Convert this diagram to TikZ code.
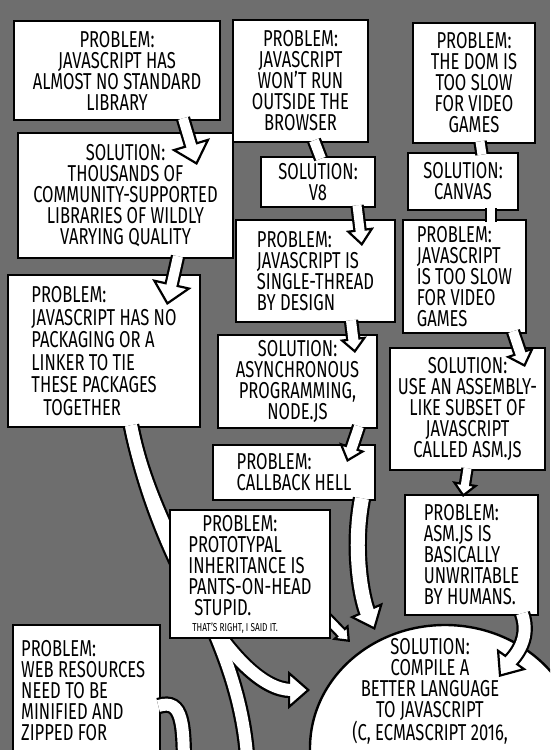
\documentclass[tikz,border=0pt]{standalone}
\usepackage{fontspec}
\setmainfont[FakeStretch=0.72]{Fira Sans}
\usepackage{tikz}
\usetikzlibrary{positioning,arrows.meta,shapes.geometric}
\definecolor{slate}{HTML}{6E6E6E}
\pgfdeclarelayer{behind}
\pgfsetlayers{behind,main}

\tikzset{
  words/.style={font=\fontsize{23}{21}\selectfont, inner sep=0pt},
  panel/.style={words, draw=black, line width=2.4pt, fill=white,
                outer sep=0pt, align=center},
  lpanel/.style={panel, align=left},
  outline/.style={draw=black, line width=#1+4.4pt},
  core/.style={draw=white, line width=#1},
  stem/.style={core=#1, preaction={outline=#1}},
  fat/.style n args={3}{draw=white, line width=2.2pt,
    -{Triangle[width=#2, length=#3, color=black, fill=white]},
    preaction={outline=#1, -, shorten >=#3-3pt},
    postaction={core=#1, -, shorten >=#3-3.5pt}}
}

\begin{document}
\begin{tikzpicture}[x=1pt, y=-1pt]
\useasboundingbox (0,0) rectangle (550,750);
\begin{pgfonlayer}{behind}
\fill[slate] (0,0) rectangle (550,750);
\end{pgfonlayer}
\clip (0,0) rectangle (550,750);

% first row
\node[panel, minimum width=206pt, minimum height=99pt] (stdlib) at (117,70.5)
  {PROBLEM:\\JAVASCRIPT HAS\\ALMOST NO STANDARD\\LIBRARY};
\node[panel, minimum width=135pt, minimum height=122pt] (browser) at (300.5,81)
  {PROBLEM:\\JAVASCRIPT\\WON'T RUN\\OUTSIDE THE\\BROWSER};
\node[panel, minimum width=122pt, minimum height=120pt] (dom) at (474,83)
  {PROBLEM:\\THE DOM IS\\TOO SLOW\\FOR VIDEO\\GAMES};

% second row
\node[panel, minimum width=215pt, minimum height=125pt] (libs) at (125.5,195.5)
  {SOLUTION:\\THOUSANDS OF\\COMMUNITY-SUPPORTED\\LIBRARIES OF WILDLY\\VARYING QUALITY};
\node[panel, minimum width=114pt, minimum height=50pt] (veight) at (318,182)
  {SOLUTION:\\V8};
\node[panel, minimum width=110pt, minimum height=57pt] (canvas) at (463,181.5)
  {SOLUTION:\\CANVAS};

% middle
\node[lpanel, minimum width=159pt, minimum height=102pt] (thread) at (315.5,271)
  {PROBLEM:\\JAVASCRIPT IS\\SINGLE-THREAD\\BY DESIGN};
\node[lpanel, minimum width=123pt, minimum height=113pt] (slowjs) at (464.5,276.5)
  {PROBLEM:\\JAVASCRIPT\\IS TOO SLOW\\FOR VIDEO\\GAMES};
\node[lpanel, minimum width=192pt, minimum height=152pt,
      font=\fontsize{23}{22.5}\selectfont] (packaging) at (104,351)
  {PROBLEM:\\JAVASCRIPT HAS NO\\PACKAGING OR A\\LINKER TO TIE\\THESE PACKAGES\\\hspace*{12pt}TOGETHER};
\node[panel, minimum width=159pt, minimum height=93pt] (async) at (297.5,381.5)
  {SOLUTION:\\ASYNCHRONOUS\\PROGRAMMING,\\NODE.JS};
\node[panel, minimum width=155pt, minimum height=122pt] (asmjs) at (467.5,409)
  {SOLUTION:\\USE AN ASSEMBLY-\\LIKE SUBSET OF\\JAVASCRIPT\\CALLED ASM.JS};
\node[lpanel, minimum width=162pt, minimum height=55pt] (callback) at (294,472.5)
  {PROBLEM:\\CALLBACK HELL};
\node[lpanel, minimum width=133pt, minimum height=120pt] (unwritable) at (471.5,555)
  {PROBLEM:\\ASM.JS IS\\BASICALLY\\UNWRITABLE\\BY HUMANS.};

% bottom
\node[panel, minimum width=147pt, minimum height=200pt, anchor=north west] (minify) at (13,625) {};
\node[words, align=left, anchor=north west, below right=15pt and 8pt of minify.north west] (minifytext)
  {PROBLEM:\\WEB RESOURCES\\NEED TO BE\\MINIFIED AND\\ZIPPED FOR};
\node[panel, ellipse, minimum width=270pt, minimum height=246pt] (compile) at (445,748) {};
\node[words, align=center, below=13pt of compile.north, xshift=-15pt] (compiletext)
  {SOLUTION:\\COMPILE A\\BETTER LANGUAGE\\TO JAVASCRIPT\\(C, ECMASCRIPT 2016,};

% long band from packaging, passing behind proto
\coordinate (offpage) at (248,775);
\draw[outline=12pt] ([xshift=27pt,yshift=1.6pt]packaging.south) .. controls +(25,126) and +(-3,-140) .. (offpage);
\draw[fat={12pt}{38pt}{22pt}] ([xshift=27pt,yshift=1.6pt]packaging.south) .. controls +(25,126) and +(-75,0) .. ([yshift=58pt]compile.west);
\draw[core=12pt] ([xshift=27pt,yshift=1.6pt]packaging.south) .. controls +(25,126) and +(-3,-140) .. (offpage);

\node[lpanel, minimum width=160pt, minimum height=128pt] (proto) at (250,574)
  {\hspace*{14pt}PROBLEM:\\PROTOTYPAL\\INHERITANCE IS\\PANTS-ON-HEAD\\\hspace*{6pt}STUPID.\\[-5pt]{\fontsize{11.5}{11}\selectfont\hspace*{4pt}THAT'S RIGHT, I SAID IT.}};
\begin{pgfonlayer}{behind}
\draw[fat={8pt}{22pt}{14pt}] ([xshift=-30pt,yshift=-16pt]proto.east) -- ([xshift=-95pt,yshift=-17pt]compile.north);
\end{pgfonlayer}

% arch out of minify
\coordinate (archend) at (184,775);
\draw[stem=12pt] ([xshift=-1.6pt,yshift=-81pt]minify.north east) .. controls +(25,-8) and +(0,-50) .. (archend);

% stems
\draw[stem=10pt] ([xshift=13.5pt,yshift=1.6pt]browser.south) -- ([xshift=3pt,yshift=-1.6pt]veight.north);
\draw[stem=9pt] ([xshift=6pt,yshift=1.6pt]dom.south) -- ([xshift=19pt,yshift=-1.6pt]canvas.north);
\draw[stem=8pt] ([xshift=28pt,yshift=1.6pt]canvas.south) -- ([xshift=26.5pt,yshift=-1.6pt]slowjs.north);

% arrows
\draw[fat={10pt}{40pt}{22pt}] ([xshift=66pt,yshift=1.6pt]stdlib.south) -- ([xshift=71.5pt,yshift=-32pt]libs.north);
\draw[fat={10pt}{40pt}{22pt}] ([xshift=52.5pt,yshift=1.6pt]libs.south) -- ([xshift=63pt,yshift=-30pt]packaging.north);
\draw[fat={9pt}{28pt}{17pt}] ([xshift=39pt,yshift=1.6pt]veight.south) -- ([xshift=46.5pt,yshift=-26pt]thread.north);
\draw[fat={10pt}{27pt}{15pt}] ([xshift=35.5pt,yshift=1.6pt]thread.south) -- ([xshift=57.5pt,yshift=-18pt]async.north);
\draw[fat={10pt}{27pt}{16pt}] ([xshift=61.5pt,yshift=1.6pt]async.south) -- ([xshift=53pt,yshift=-17pt]callback.north);
\draw[fat={10pt}{30pt}{16pt}] ([xshift=48.5pt,yshift=1.6pt]slowjs.south) -- ([xshift=57.5pt,yshift=-19pt]asmjs.north);
\draw[fat={8pt}{26pt}{14pt}] ([yshift=1.6pt]asmjs.south) -- ([xshift=-8.5pt,yshift=-2pt]unwritable.north);
\draw[fat={14pt}{36pt}{22pt}] ([xshift=68pt,yshift=1.6pt]callback.south) .. controls +(-10,52) and +(-13,-30) .. ([xshift=-70pt,yshift=-5pt]compile.north);
\draw[fat={12pt}{36pt}{22pt}] ([xshift=50.5pt,yshift=1.6pt]unwritable.south) .. controls +(10,28) and +(12,-17) .. ([xshift=54pt,yshift=-52pt]compile.north);
\end{tikzpicture}
\end{document}
